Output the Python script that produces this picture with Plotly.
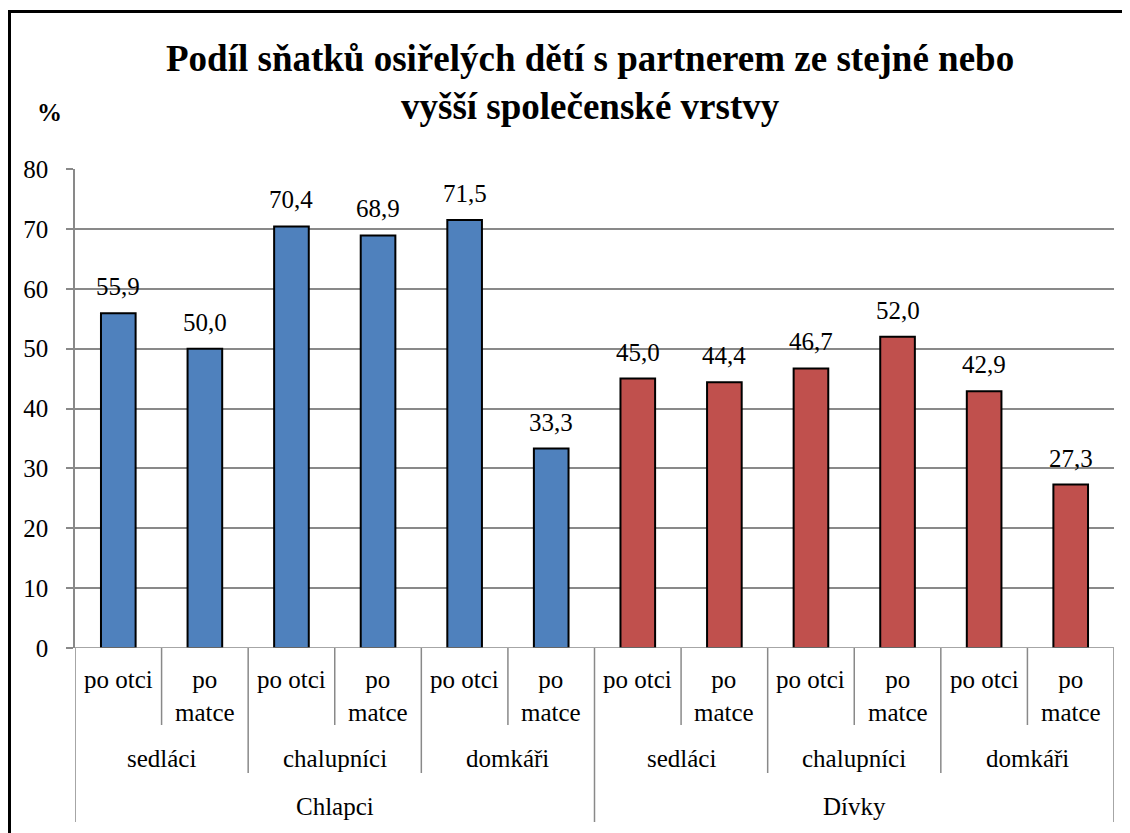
import plotly.graph_objects as go

# ---- data ----
genders = ["Chlapci", "Dívky"]
classes = ["sedláci", "chalupníci", "domkáři"]
lineage = ["po otci", "po<br>matce"]
chlapci_values = [55.9, 50.0, 70.4, 68.9, 71.5, 33.3]
divky_values = [45.0, 44.4, 46.7, 52.0, 42.9, 27.3]
y_ticks = [0, 10, 20, 30, 40, 50, 60, 70, 80]
title_text = "Podíl sňatků osiřelých dětí s partnerem ze stejné nebo<br>vyšší společenské vrstvy"
y_unit = "%"

# ---- geometry (page pixels; page has 8px body margin) ----
O = 8
W, H = 1130 - O, 833 - O
L, R, T, B = 75, 1114, 169, 648
pw, ph = R - L, B - T


def py(p):  # page pixel y -> paper y
    return (B - p) / ph


def px(p):  # page pixel x -> paper x
    return (p - L) / pw


FONT = "Liberation Serif"
FS = 25
GRID = "#898989"

n_c = len(chlapci_values)
x_c = list(range(n_c))
x_d = list(range(n_c, n_c + len(divky_values)))

fig = go.Figure()
fig.add_trace(go.Bar(x=x_c, y=chlapci_values, width=0.4, name=genders[0],
                     marker=dict(color="#4F81BD", line=dict(color="black", width=2))))
fig.add_trace(go.Bar(x=x_d, y=divky_values, width=0.4, name=genders[1],
                     marker=dict(color="#C0504D", line=dict(color="black", width=2))))

annotations = []
# data labels
for xs, vs in ((x_c, chlapci_values), (x_d, divky_values)):
    for x, v in zip(xs, vs):
        annotations.append(dict(x=x, y=v, xref="x", yref="y", text=f"{v:.1f}".replace(".", ","),
                                showarrow=False, yanchor="bottom", yshift=11,
                                font=dict(family=FONT, size=FS, color="black")))

shapes = []
n_total = n_c + len(divky_values)
# level 1 labels
for i in range(n_total):
    annotations.append(dict(x=i, y=py(664), xref="x", yref="paper", text=lineage[i % 2],
                            showarrow=False, yanchor="top",
                            font=dict(family=FONT, size=FS, color="black")))
# level 2 labels
for g in range(len(genders)):
    for c, cname in enumerate(classes):
        xc = g * 6 + c * 2 + 0.5
        annotations.append(dict(x=xc, y=py(758), xref="x", yref="paper", text=cname,
                                showarrow=False, yanchor="middle",
                                font=dict(family=FONT, size=FS, color="black")))
# level 3 labels
for g, gname in enumerate(genders):
    annotations.append(dict(x=g * 6 + 2.5, y=py(806), xref="x", yref="paper", text=gname,
                            showarrow=False, yanchor="middle",
                            font=dict(family=FONT, size=FS, color="black")))

# separators
for i in range(n_total - 1):
    b = i + 0.5
    if (i + 1) % 6 == 0:
        bottom = 822
    elif (i + 1) % 2 == 0:
        bottom = 773
    else:
        bottom = 725
    shapes.append(dict(type="line", xref="x", yref="paper", x0=b, x1=b, y0=0, y1=py(bottom),
                       line=dict(color=GRID, width=1.5)))
for b in (-0.5, n_total - 0.5):
    shapes.append(dict(type="line", xref="x", yref="paper", x0=b, x1=b, y0=0, y1=py(822),
                       line=dict(color=GRID, width=1.5)))

# outer border
shapes.append(dict(type="rect", xref="paper", yref="paper", x0=px(9.5), x1=px(1150),
                   y0=py(11.5), y1=py(860), line=dict(color="black", width=3), layer="below"))

# unit label
annotations.append(dict(x=px(49), y=py(112), xref="paper", yref="paper", text=f"<b>{y_unit}</b>",
                        showarrow=False, xanchor="center", yanchor="middle",
                        font=dict(family=FONT, size=FS, color="black")))

# title
annotations.append(dict(x=px(590), y=py(36), xref="paper", yref="paper", text=f"<b>{title_text}</b>",
                        showarrow=False, xanchor="center", yanchor="top", align="center",
                        font=dict(family=FONT, size=37, color="black")))

fig.update_layout(
    width=W, height=H,
    font=dict(family=FONT, color="black"),
    margin=dict(l=L - O, r=W - (R - O), t=T - O, b=H - (B - O), pad=0),
    paper_bgcolor="white", plot_bgcolor="white",
    barmode="overlay", showlegend=False,
    xaxis=dict(range=[-0.5, n_total - 0.5], showticklabels=False, ticks="",
               showgrid=False, zeroline=False, showline=False),
    yaxis=dict(range=[0, 80], tickvals=y_ticks, ticks="outside", ticklen=7, tickcolor=GRID,
               tickwidth=1.5, showline=True, linecolor=GRID, linewidth=1.5,
               showgrid=True, gridcolor=GRID, gridwidth=1.5, zeroline=False,
               ticklabelstandoff=13,
               tickfont=dict(family=FONT, size=FS, color="black")),
    annotations=annotations, shapes=shapes,
)
fig.add_shape(type="line", xref="paper", yref="y", x0=0, x1=1, y0=0, y1=0,
              line=dict(color=GRID, width=1.5))

fig.write_html("out.html")
